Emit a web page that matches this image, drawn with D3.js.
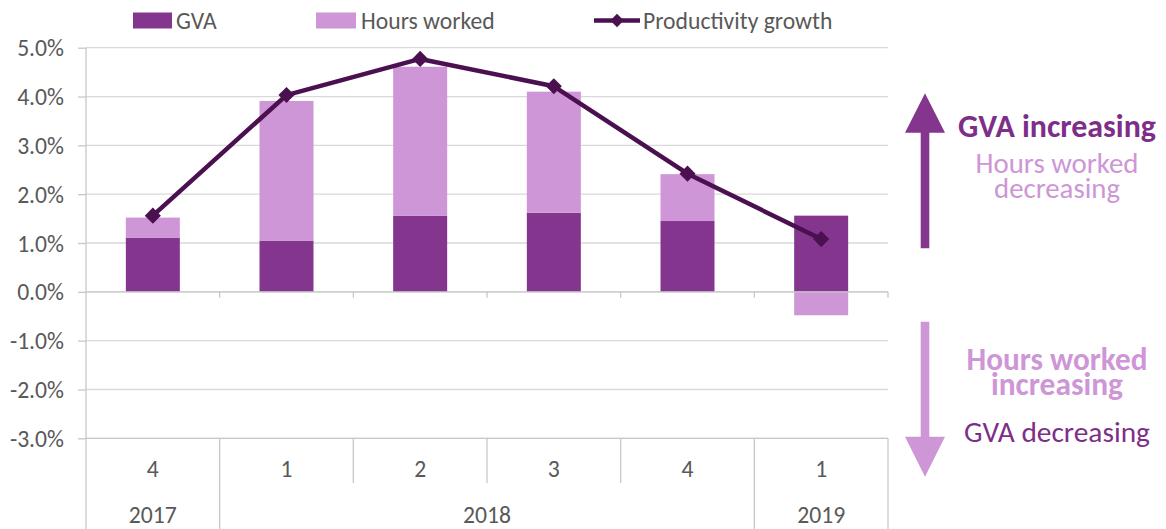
<!DOCTYPE html>
<html>
<head>
<meta charset="utf-8">
<script src="https://cdn.jsdelivr.net/npm/d3@7"></script>
<style>
  html, body { margin: 0; padding: 0; background: #fff; }
  svg { display: block; }
  text { font-family: Carlito, Calibri, Lato, "Noto Sans", sans-serif; }
</style>
</head>
<body>
<svg id="chart" width="1166" height="529"></svg>
<script>
(function () {
// ---- data ----
const quarters = ["4", "1", "2", "3", "4", "1"];
const years = ["2017", "2018", "2018", "2018", "2018", "2019"];
const gva = [1.11, 1.05, 1.56, 1.62, 1.45, 1.56];
const hoursWorked = [0.41, 2.86, 3.05, 2.48, 0.96, -0.48];
const productivity = [1.56, 4.03, 4.77, 4.21, 2.42, 1.08];
const yTicks = [-3, -2, -1, 0, 1, 2, 3, 4, 5];
const seriesNames = ["GVA", "Hours worked", "Productivity growth"];

// ---- styles ----
const C_GVA = "#84368F", C_HRS = "#CE96D6", C_LINE = "#4A1050";
const C_GRID = "#d9d9d9", C_AXIS = "#c8c8c8", C_TEXT = "#595959";
const C_ANN_DARK = "#7E2E89";

const svg = d3.select("#chart");
const pLeft = 86, pRight = 888, pTop = 47.7, pBottom = 438.3, svgH = 529;

const idx = d3.range(quarters.length);
const x = d3.scaleBand().domain(idx).range([pLeft, pRight]).paddingInner(0.596).paddingOuter(0.298);
const step = x.step();
const y = d3.scaleLinear().domain([-3, 5]).range([pBottom, pTop]);

function fit(sel, targetW) {
  const w = sel.node().getComputedTextLength();
  const fs = parseFloat(sel.attr("font-size"));
  sel.attr("font-size", fs * targetW / w);
  return sel;
}

const probe = svg.append("text").attr("font-size", 24).text("2017");
const w2017 = probe.node().getComputedTextLength();
const AX_FS = 24 * 48 / w2017;
probe.remove();

// gridlines
svg.append("g").selectAll("line").data(yTicks).join("line")
  .attr("x1", pLeft).attr("x2", pRight)
  .attr("y1", d => y(d)).attr("y2", d => y(d))
  .attr("stroke", C_GRID).attr("stroke-width", 1.3);

// y axis
const yAxis = svg.append("g").attr("transform", `translate(${pLeft},0)`)
  .call(d3.axisLeft(y).tickValues(yTicks).tickSize(8).tickPadding(14)
    .tickFormat(d => d.toFixed(1) + "%"));
yAxis.select(".domain").remove();
yAxis.selectAll(".tick line").attr("stroke", C_AXIS).attr("stroke-width", 1.3);
yAxis.selectAll(".tick text").attr("font-size", AX_FS).attr("fill", C_TEXT)
  .attr("font-family", "Carlito, Calibri, Lato, sans-serif").attr("dy", "0.34em");
svg.append("line").attr("x1", pLeft).attr("x2", pLeft).attr("y1", pTop).attr("y2", svgH)
  .attr("stroke", C_AXIS).attr("stroke-width", 1.3);

// bars
const bw = x.bandwidth();
svg.append("g").selectAll("rect").data(idx).join("rect")
  .attr("x", i => x(i)).attr("width", bw)
  .attr("y", i => y(Math.max(0, gva[i]))).attr("height", i => Math.abs(y(gva[i]) - y(0)))
  .attr("fill", C_GVA);
svg.append("g").selectAll("rect").data(idx).join("rect")
  .attr("x", i => x(i)).attr("width", bw)
  .attr("y", i => hoursWorked[i] >= 0 ? y(gva[i] + hoursWorked[i]) : y(0))
  .attr("height", i => hoursWorked[i] >= 0 ? y(gva[i]) - y(gva[i] + hoursWorked[i]) : y(hoursWorked[i]) - y(0))
  .attr("fill", C_HRS);

// zero axis line with tick marks at category boundaries
svg.append("line").attr("x1", pLeft).attr("x2", pRight).attr("y1", y(0)).attr("y2", y(0))
  .attr("stroke", C_AXIS).attr("stroke-width", 1.3);
svg.append("g").selectAll("line").data(d3.range(1, quarters.length + 1)).join("line")
  .attr("x1", k => pLeft + k * step).attr("x2", k => pLeft + k * step)
  .attr("y1", y(0)).attr("y2", y(0) + 6)
  .attr("stroke", C_AXIS).attr("stroke-width", 1.3);

// category (multi-level) axis at bottom
svg.append("line").attr("x1", pLeft).attr("x2", pRight).attr("y1", pBottom).attr("y2", pBottom)
  .attr("stroke", C_AXIS).attr("stroke-width", 1.3);
const boundaries = d3.range(1, quarters.length + 1);
svg.append("g").selectAll("line").data(boundaries).join("line")
  .attr("x1", k => pLeft + k * step).attr("x2", k => pLeft + k * step)
  .attr("y1", pBottom)
  .attr("y2", k => (k === quarters.length || years[k] !== years[k - 1]) ? svgH : 483)
  .attr("stroke", C_AXIS).attr("stroke-width", 1.3);
svg.append("g").selectAll("text").data(idx).join("text")
  .attr("x", i => x(i) + bw / 2).attr("y", 477)
  .attr("text-anchor", "middle").attr("font-size", AX_FS).attr("fill", C_TEXT)
  .text(i => quarters[i]);
const groups = [];
years.forEach((yr, i) => {
  if (groups.length && groups[groups.length - 1].year === yr) groups[groups.length - 1].end = i;
  else groups.push({ year: yr, start: i, end: i });
});
svg.append("g").selectAll("text").data(groups).join("text")
  .attr("x", g => (pLeft + g.start * step + pLeft + (g.end + 1) * step) / 2).attr("y", 523)
  .attr("text-anchor", "middle").attr("font-size", AX_FS).attr("fill", C_TEXT)
  .text(g => g.year);

// productivity line
const line = d3.line().x(i => x(i) + bw / 2).y(i => y(productivity[i]));
svg.append("path").datum(idx).attr("d", line)
  .attr("fill", "none").attr("stroke", C_LINE).attr("stroke-width", 4.5).attr("stroke-linejoin", "round");
const diamond = d3.symbol(d3.symbolSquare, 130);
svg.append("g").selectAll("path").data(idx).join("path")
  .attr("d", diamond)
  .attr("transform", i => `translate(${x(i) + bw / 2},${y(productivity[i])}) rotate(45)`)
  .attr("fill", C_LINE);

// legend
const lg = svg.append("g");
lg.append("rect").attr("x", 133).attr("y", 12.5).attr("width", 39).attr("height", 16).attr("fill", C_GVA);
lg.append("rect").attr("x", 316).attr("y", 12.5).attr("width", 40).attr("height", 16).attr("fill", C_HRS);
lg.append("line").attr("x1", 594).attr("x2", 640).attr("y1", 20.5).attr("y2", 20.5)
  .attr("stroke", C_LINE).attr("stroke-width", 4.5);
lg.append("path").attr("d", d3.symbol(d3.symbolSquare, 90))
  .attr("transform", "translate(617,20.5) rotate(45)").attr("fill", C_LINE);
const legTextX = [176, 361, 643];
seriesNames.forEach((n, i) => {
  lg.append("text").attr("x", legTextX[i]).attr("y", 28.5)
    .attr("font-size", AX_FS).attr("fill", C_TEXT).text(n);
});

// annotation arrows
const ag = svg.append("g");
function arrowUp(cx, tipY, baseY, tailY, halfHead, halfShaft) {
  const p = d3.path();
  p.moveTo(cx, tipY); p.lineTo(cx + halfHead, baseY); p.lineTo(cx + halfShaft, baseY);
  p.lineTo(cx + halfShaft, tailY); p.lineTo(cx - halfShaft, tailY); p.lineTo(cx - halfShaft, baseY);
  p.lineTo(cx - halfHead, baseY); p.closePath();
  return p.toString();
}
ag.append("path").attr("d", arrowUp(925, 93.3, 132.7, 248.3, 20, 4.3)).attr("fill", C_GVA);
ag.append("path").attr("d", arrowUp(925, 476.7, 436.7, 321.7, 20, 4.3)).attr("fill", C_HRS);

// annotation texts
const annCx = 1057;
const annLines = [
  { t: "GVA increasing", y: 136.7, w: 198, bold: true, c: C_ANN_DARK },
  { t: "Hours worked", y: 172.7, w: 163, bold: false, c: C_HRS },
  { t: "decreasing", y: 198, w: 126, bold: false, c: C_HRS },
  { t: "Hours worked", y: 370, w: 181, bold: true, c: C_HRS },
  { t: "increasing", y: 395, w: 132, bold: true, c: C_HRS },
  { t: "GVA decreasing", y: 441.7, w: 186, bold: false, c: C_ANN_DARK }
];
annLines.forEach(a => {
  const t = ag.append("text").attr("x", annCx).attr("y", a.y).attr("text-anchor", "middle")
    .attr("font-size", 28).attr("font-weight", a.bold ? 700 : 400).attr("fill", a.c).text(a.t);
  fit(t, a.w);
});
})();
</script>
</body>
</html>
